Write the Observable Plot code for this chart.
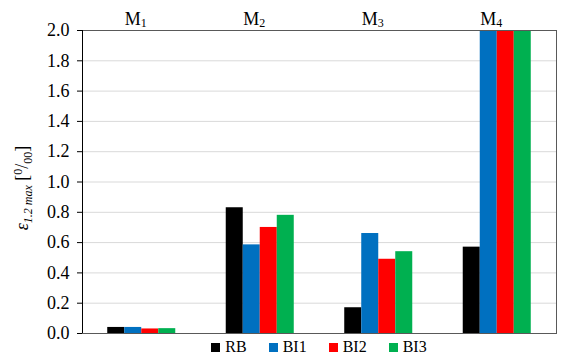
<!DOCTYPE html>
<html><head><meta charset="utf-8">
<script src="https://cdn.jsdelivr.net/npm/d3@7"></script>
<script src="https://cdn.jsdelivr.net/npm/@observablehq/plot@0.6"></script>
<style>
body{margin:0;background:#fff;font-family:"Liberation Serif","Times New Roman",serif;}
#chart svg{display:block;overflow:visible;}
#legend{display:flex;justify-content:center;align-items:center;gap:22px;height:22px;padding-left:82px;padding-right:7px;box-sizing:border-box;width:563px;font-size:16px;color:#000;}
.item{display:flex;align-items:center;}
.sw{width:9px;height:9px;margin-right:5px;}
</style></head><body><div id="chart"></div><div id="legend"></div>
<script>
const groups = ["M1", "M2", "M3", "M4"];
const series = ["RB", "BI1", "BI2", "BI3"];
const RB  = [0.04, 0.83, 0.17, 0.57];
const BI1 = [0.04, 0.585, 0.66, 2.0];
const BI2 = [0.03, 0.70, 0.49, 2.0];
const BI3 = [0.032, 0.78, 0.54, 2.0];
const colors = ["#000000", "#0070C0", "#FF0000", "#00B050"];
const yTicks = [0, 0.2, 0.4, 0.6, 0.8, 1.0, 1.2, 1.4, 1.6, 1.8, 2.0];

const values = [RB, BI1, BI2, BI3];
const groupFrac = 0.574;
const bw = groupFrac / series.length;
const rows = [];
groups.forEach((g, gi) => series.forEach((s, si) => rows.push({group: g, gi, series: s, si, value: values[si][gi]})));

const font = '"Liberation Serif","Times New Roman",serif';
const chart = Plot.plot({
  width: 563, height: 336,
  marginLeft: 82, marginRight: 7, marginTop: 30, marginBottom: 3,
  x: {type: "linear", domain: [0, groups.length], axis: null},
  y: {domain: [0, 2], ticks: yTicks, tickFormat: d => d.toFixed(1), tickSize: 5, tickPadding: 8, label: null},
  color: {domain: series, range: colors},
  style: {fontFamily: font, fontSize: "18px", background: "white", color: "black", overflow: "visible"},
  marks: [
    Plot.ruleY(yTicks.filter(t => t > 0 && t < 2), {stroke: "#d9d9d9", strokeWidth: 1}),
    Plot.rectY(rows, {
      x1: d => d.gi + 0.5 - groupFrac / 2 + d.si * bw,
      x2: d => d.gi + 0.5 - groupFrac / 2 + (d.si + 1) * bw,
      y1: 0, y2: "value", fill: "series", clip: true
    }),
    Plot.frame({stroke: "#595959"}),
    Plot.ruleX([0], {stroke: "black"}),
    Plot.text(groups, {x: (d, i) => i + 0.5, y: () => 2, text: d => d.slice(0, 1), textAnchor: "end", dx: -1, dy: -11, fontSize: 18, fill: "black"}),
    Plot.text(groups, {x: (d, i) => i + 0.5, y: () => 2, text: d => d.slice(1), textAnchor: "start", dx: -1, dy: -7, fontSize: 12, fill: "black"})
  ]
});
document.getElementById("chart").appendChild(chart);

// y-axis label
const svg = d3.select(chart);
const lab = svg.append("text")
  .attr("transform", "translate(28,188) rotate(-90)")
  .attr("text-anchor", "middle")
  .attr("fill", "black")
  .style("font-family", font);
lab.append("tspan").attr("font-size", 18).attr("font-style", "italic").text("ε");
lab.append("tspan").attr("font-size", 12).attr("font-style", "italic").attr("dy", 4).text("1.2 max");
lab.append("tspan").attr("font-size", 18).attr("dy", -4).text(" [");
lab.append("tspan").attr("font-size", 12).attr("dy", -6).text("0");
lab.append("tspan").attr("font-size", 18).attr("dy", 6).text("/");
lab.append("tspan").attr("font-size", 12).attr("dy", 4).text("00");
lab.append("tspan").attr("font-size", 18).attr("dy", -4).text("]");

// legend
const leg = d3.select("#legend");
series.forEach((s, i) => {
  const it = leg.append("div").attr("class", "item");
  it.append("div").attr("class", "sw").style("background", colors[i]);
  it.append("span").text(s);
});
</script></body></html>
